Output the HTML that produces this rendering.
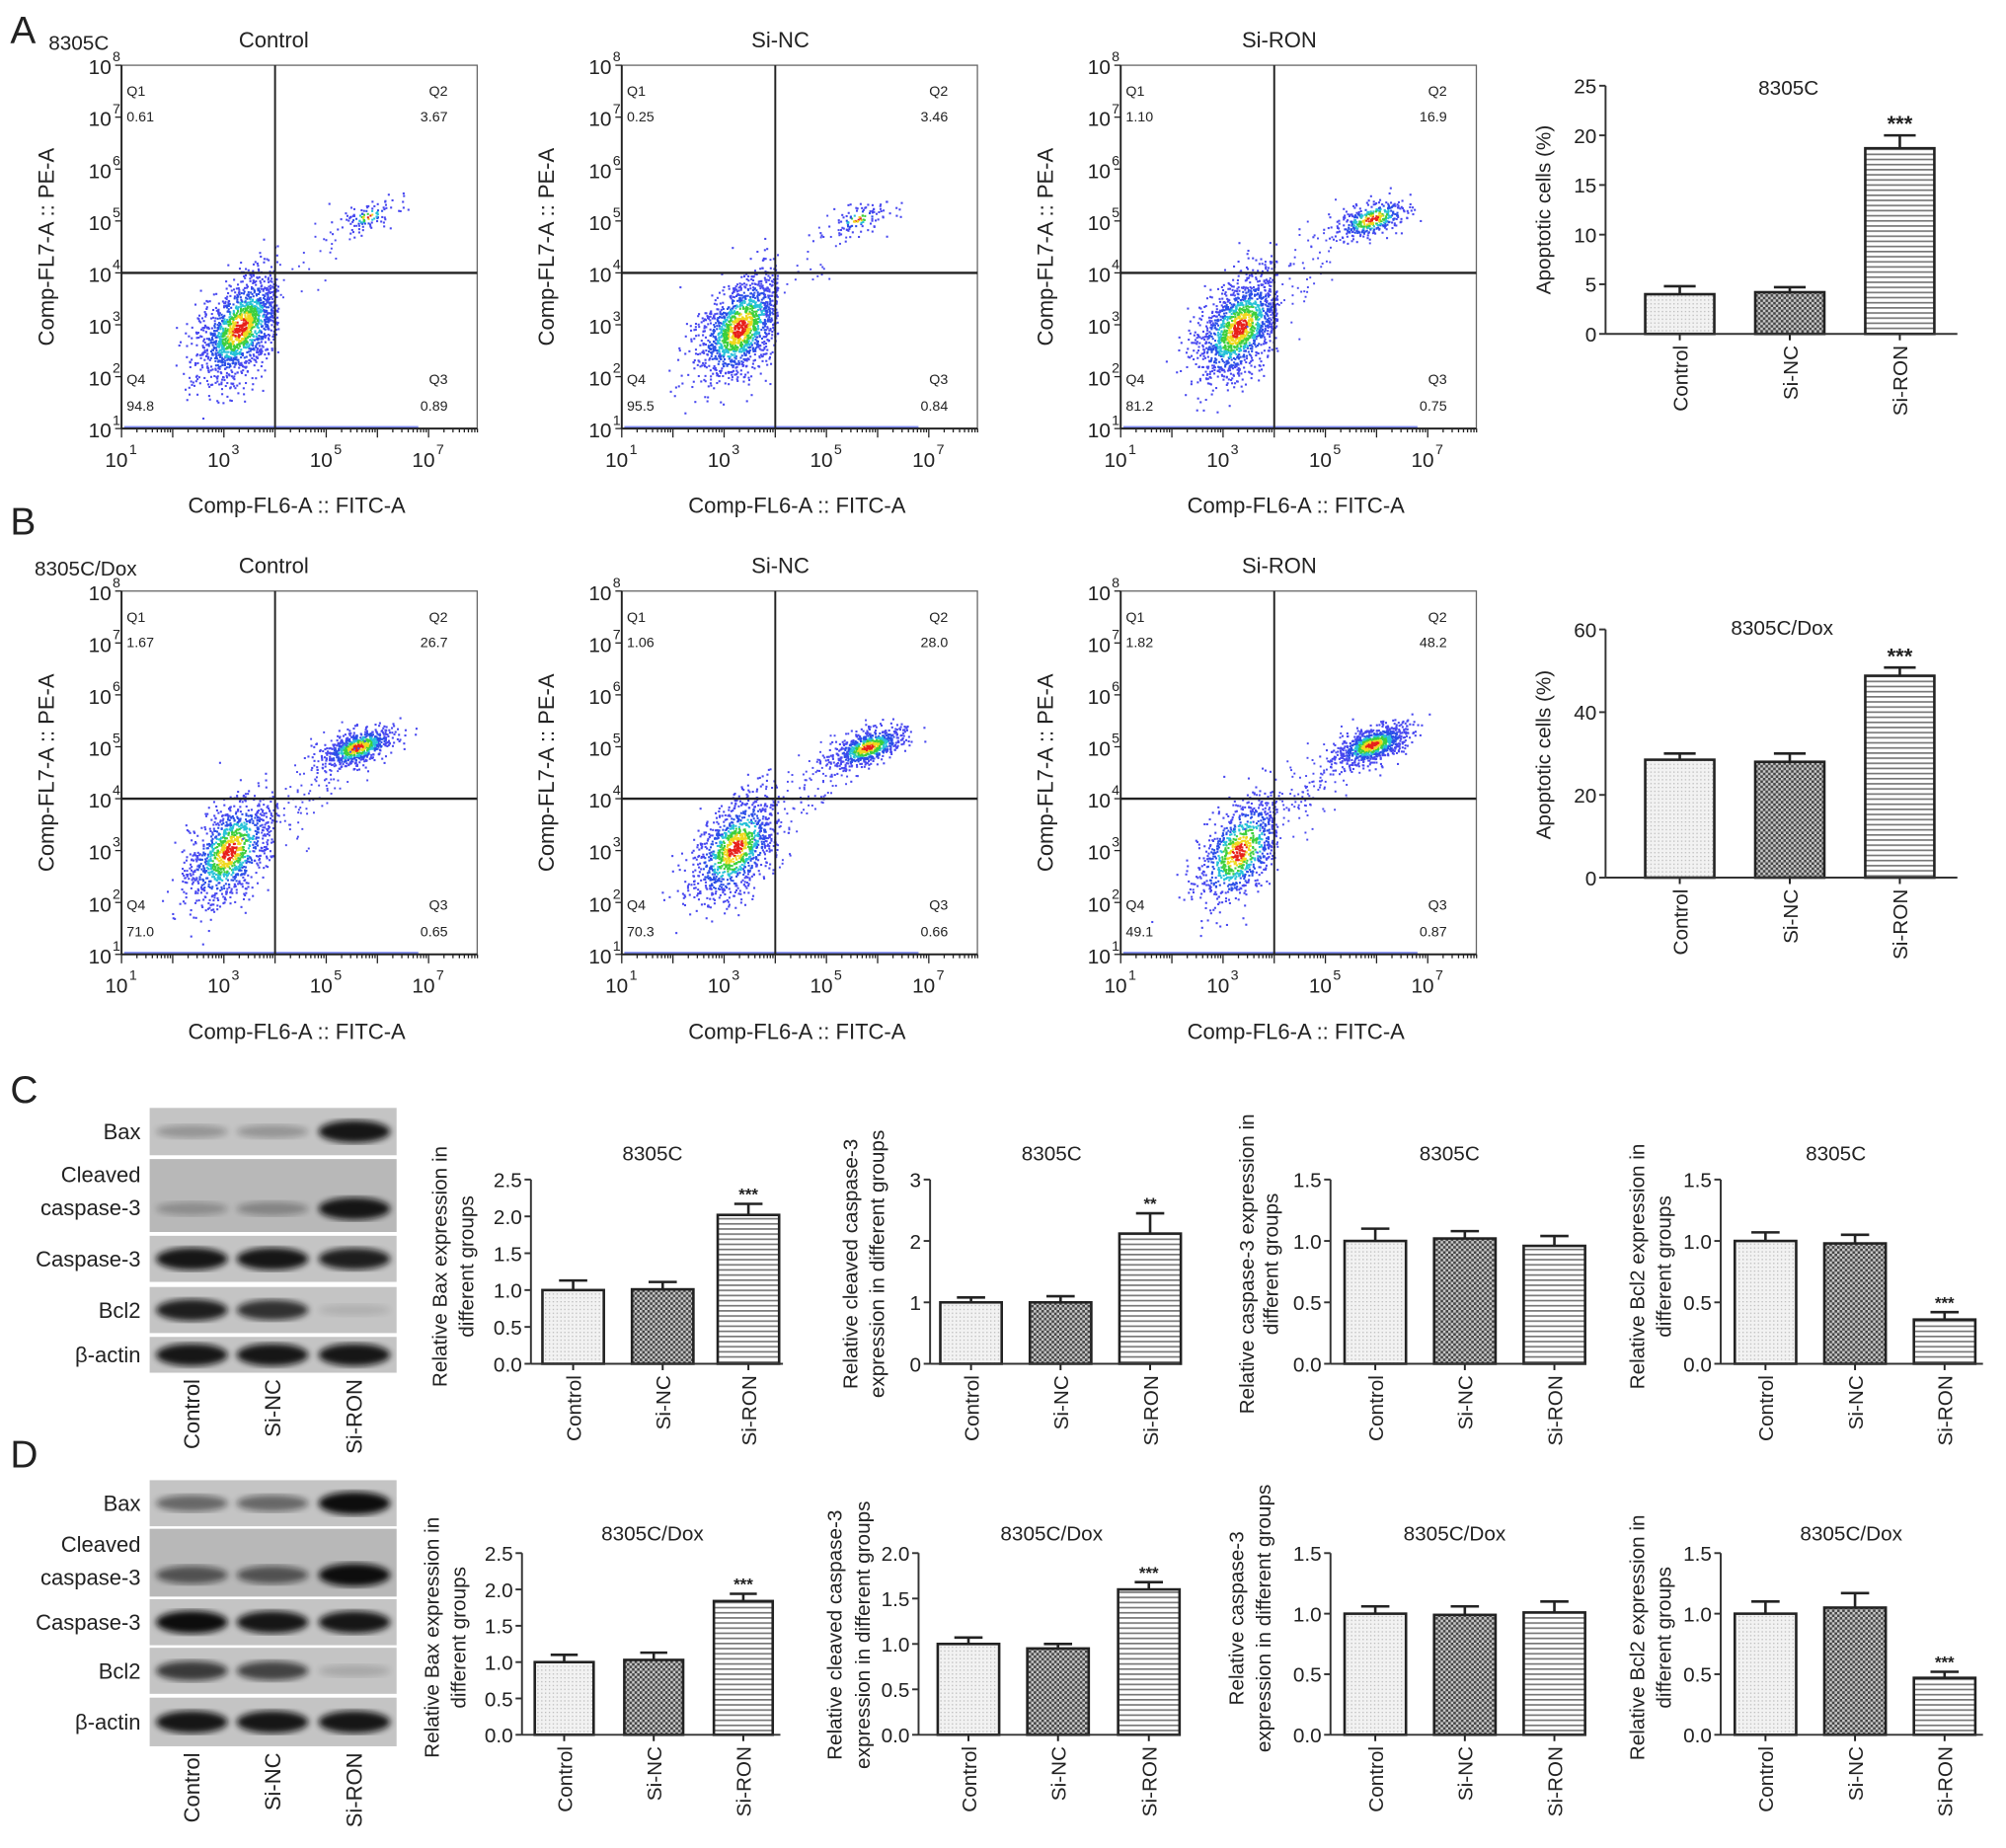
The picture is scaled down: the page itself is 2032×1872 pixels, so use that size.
<!DOCTYPE html>
<html><head><meta charset="utf-8">
<style>
html,body{margin:0;padding:0;background:#fff;}
svg{display:block;}
text{font-family:"Liberation Sans",Arial,sans-serif;fill:#222;}
</style></head>
<body>
<svg id="fig" xmlns="http://www.w3.org/2000/svg" width="2032" height="1872" viewBox="0 0 1568 1444.5" preserveAspectRatio="none">
<defs>
<pattern id="pDot" width="3" height="3" patternUnits="userSpaceOnUse"><rect width="3" height="3" fill="#f2f2f2"/><rect width="1" height="1" fill="#bbb"/></pattern>
<pattern id="pChk" width="4" height="4" patternUnits="userSpaceOnUse"><rect width="4" height="4" fill="#444"/><rect width="2" height="2" fill="#c8c8c8"/><rect x="2" y="2" width="2" height="2" fill="#c8c8c8"/></pattern>
<pattern id="pStr" width="4" height="4" patternUnits="userSpaceOnUse"><rect width="4" height="4" fill="#fff"/><rect width="4" height="1.3" fill="#777"/></pattern>
<filter id="blur"><feGaussianBlur stdDeviation="2.5"/></filter>
</defs>
<g id="root"></g>
</svg>
<script>
// ---------- Flow cytometry data ----------
const flowTitles = ["Control","Si-NC","Si-RON","Control","Si-NC","Si-RON"];
const q1Vals = ["0.61","0.25","1.10","1.67","1.06","1.82"];
const q2Vals = ["3.67","3.46","16.9","26.7","28.0","48.2"];
const q3Vals = ["0.89","0.84","0.75","0.65","0.66","0.87"];
const q4Vals = ["94.8","95.5","81.2","71.0","70.3","49.1"];
const liveCx = [3.3,3.3,3.3,3.1,3.2,3.3];   // log10 FITC
const liveCy = [2.95,2.95,2.95,3.0,3.05,3.0];    // log10 PE
const apoCx = [5.8,5.6,5.9,5.6,5.8,5.9];
const apoCy = [5.1,5.05,5.05,5.0,5.0,5.05];
const apoN = [110,110,380,700,700,900];
const liveN = [1500,1400,1400,1100,1100,850];
const xTickExp = [1,3,5,7];
const yTickExp = [1,2,3,4,5,6,7,8];

// ---------- Bar chart data ----------
const groups = ["Control","Si-NC","Si-RON"];
const valsA = [4.0,4.2,18.7]; const errA = [0.8,0.5,1.3];
const valsB = [28.5,28.0,48.8]; const errB = [1.5,2.0,2.0];
const valsC1 = [1.0,1.01,2.02]; const errC1 = [0.13,0.1,0.15];
const valsC2 = [1.0,1.0,2.12]; const errC2 = [0.08,0.1,0.33];
const valsC3 = [1.0,1.02,0.96]; const errC3 = [0.1,0.06,0.08];
const valsC4 = [1.0,0.98,0.36]; const errC4 = [0.07,0.07,0.06];
const valsD1 = [1.0,1.03,1.84]; const errD1 = [0.1,0.1,0.1];
const valsD2 = [1.0,0.95,1.6]; const errD2 = [0.07,0.05,0.08];
const valsD3 = [1.0,0.99,1.01]; const errD3 = [0.06,0.07,0.09];
const valsD4 = [1.0,1.05,0.47]; const errD4 = [0.1,0.12,0.05];

// ---------- Western blot band intensities ----------
const blotProteins = ["Bax","Cleaved caspase-3","Caspase-3","Bcl2","β-actin"];
const bandC = [[0.25,0.25,0.95],[0.25,0.3,0.95],[0.95,0.95,0.9],[0.9,0.8,0.1],[0.95,0.95,0.95]];
const bandD = [[0.5,0.5,1.0],[0.6,0.6,1.0],[1.0,0.95,0.95],[0.75,0.7,0.15],[0.95,0.95,0.95]];

const NS="http://www.w3.org/2000/svg";
const root=document.getElementById('root');
function el(tag,attrs,parent){const e=document.createElementNS(NS,tag);for(const k in attrs)e.setAttribute(k,attrs[k]);(parent||root).appendChild(e);return e;}
function txt(s,attrs,parent){const e=el('text',attrs,parent);e.textContent=s;return e;}

// PRNG (deterministic jitter for density cloud)
let seed=12345;
function rnd(){seed|=0;seed=seed+0x6D2B79F5|0;let t=Math.imul(seed^seed>>>15,1|seed);t=t+Math.imul(t^t>>>7,61|t)^t;return((t^t>>>14)>>>0)/4294967296;}
function gauss(){let u=0,v=0;while(u===0)u=rnd();v=rnd();return Math.sqrt(-2*Math.log(u))*Math.cos(2*Math.PI*v);}
function dcol(r){if(r<0.35)return'#e8201a';if(r<0.6)return'#f0d81e';if(r<0.85)return'#3ccf3c';if(r<1.1)return'#27c2d8';if(r<1.5)return'#2a4ee8';return'#4848f0';}

// ---------- Flow panels ----------
const flowX0=[95,486,876], flowRowY=[0,411];
const letters=[["A",8,34],["B",8,418],["C",8,862],["D",8,1147]];
letters.forEach(l=>{const t=txt(l[0],{x:l[1],y:l[2],'font-size':30});

});

for(let i=0;i<6;i++){
  const col=i%3,row=Math.floor(i/3);
  const x0=flowX0[col],top=51+flowRowY[row],bot=335+flowRowY[row],right=x0+278;
  const g=el('g',{});
  
  
  const dx=40, dy=(bot-top)/7;
  const X=l=>x0+(l-1)*dx, Y=l=>bot-(l-1)*dy;
  seed=1000+i*77;
  for(let k=0;k<liveN[i];k++){
    const u=gauss(),v=gauss();
    let lx=liveCx[i]+0.42*u, ly=liveCy[i]+0.25*u+0.45*v;
    if(lx>4.05) lx=4.05-rnd()*0.3;
    if(ly<1.1) ly=1.05+rnd()*0.1;
    const r=Math.sqrt(u*u+v*v);
    el('rect',{x:X(lx).toFixed(1),y:Y(ly).toFixed(1),width:1.6,height:1.6,fill:dcol(r)},g);
  }
  for(let k=0;k<apoN[i];k++){
    const u=gauss(),v=gauss();
    const lx=apoCx[i]+0.35*u, ly=apoCy[i]+0.1*u+0.16*v;
    const r=Math.sqrt(u*u+v*v)*(apoN[i]>300?1:1.8);
    el('rect',{x:X(lx).toFixed(1),y:Y(ly).toFixed(1),width:1.6,height:1.6,fill:dcol(r)},g);
  }
  for(let k=0;k<apoN[i]/7+15;k++){
    const t=rnd();const lx=3.8+t*1.6+gauss()*0.25, ly=3.4+t*1.5+gauss()*0.3;
    el('rect',{x:X(lx).toFixed(1),y:Y(ly).toFixed(1),width:1.5,height:1.5,fill:'#4a4af0'},g);
  }
  el('rect',{x:x0+2,y:bot-2,width:230,height:2,fill:'#5a6af0',opacity:0.8},g);
  el('rect',{x:x0,y:top,width:right-x0,height:bot-top,fill:'none',stroke:'#666','stroke-width':1},g);
  el('line',{x1:x0,y1:top,x2:x0,y2:bot,stroke:'#222','stroke-width':1.5},g);
  el('line',{x1:x0,y1:bot,x2:right,y2:bot,stroke:'#222','stroke-width':1.5},g);
  el('line',{x1:X(4),y1:top,x2:X(4),y2:bot,stroke:'#222','stroke-width':1.5},g);
  el('line',{x1:x0,y1:Y(4),x2:right,y2:Y(4),stroke:'#222','stroke-width':1.8},g);
  for(let d=1;d<8;d++){for(let m=1;m<10;m++){const lx=d+Math.log10(m);const xx=X(lx);
    el('line',{x1:xx,y1:bot,x2:xx,y2:bot+(m===1?7:3),stroke:'#222','stroke-width':1},g);}}
  yTickExp.forEach(e=>{el('line',{x1:x0-5,y1:Y(e),x2:x0,y2:Y(e),stroke:'#222'},g);
    txt('10',{x:x0-8,y:Y(e)+7,'font-size':16,'text-anchor':'end'},g);
    txt(String(e),{x:x0-7,y:Y(e)-3,'font-size':11},g);});
  xTickExp.forEach(e=>{txt('10',{x:X(e)-4,y:bot+30,'font-size':16,'text-anchor':'middle'},g);
    txt(String(e),{x:X(e)+6,y:bot+20,'font-size':11},g);});
  const fs=11;
  txt('Q1',{x:x0+4,y:top+24,'font-size':fs,fill:'#333'},g);
  txt(q1Vals[i],{x:x0+4,y:top+44,'font-size':fs},g);
  txt('Q2',{x:right-23,y:top+24,'font-size':fs,'text-anchor':'end'},g);
  txt(q2Vals[i],{x:right-23,y:top+44,'font-size':fs,'text-anchor':'end'},g);
  txt('Q4',{x:x0+4,y:bot-35,'font-size':fs},g);
  txt(q4Vals[i],{x:x0+4,y:bot-14,'font-size':fs},g);
  txt('Q3',{x:right-23,y:bot-35,'font-size':fs,'text-anchor':'end'},g);
  txt(q3Vals[i],{x:right-23,y:bot-14,'font-size':fs,'text-anchor':'end'},g);
  txt(flowTitles[i],{x:x0+[119,124,124][col],y:top-14,'font-size':17,'text-anchor':'middle'},g);
  txt('Comp-FL6-A :: FITC-A',{x:x0+137,y:bot+66,'font-size':17,'text-anchor':'middle'},g);
  txt('Comp-FL7-A :: PE-A',{x:0,y:0,'font-size':17,'text-anchor':'middle',transform:`translate(${x0-53},${(top+bot)/2}) rotate(-90)`},g);
}
txt('8305C',{x:38,y:39,'font-size':16});
txt('8305C/Dox',{x:27,y:450,'font-size':16});

// ---------- Bar chart function ----------
function barChart(name,o,vals,errs){
  const g=el('g',{});
  
  
  const Y=v=>o.y0-(v/o.ymax)*(o.y0-o.ytop);
  const fills=['url(#pDot)','url(#pChk)','url(#pStr)'];
  vals.forEach((v,k)=>{
    const cx=o.cx[k],w=o.bw;
    const b=el('rect',{x:cx-w/2,y:Y(v),width:w,height:o.y0-Y(v),fill:fills[k],stroke:'#222','stroke-width':2},g);
    
    
    const ye=Y(v+errs[k]);
    el('line',{x1:cx,y1:Y(v),x2:cx,y2:ye,stroke:'#222','stroke-width':2},g);
    el('line',{x1:cx-w*0.23,y1:ye,x2:cx+w*0.23,y2:ye,stroke:'#222','stroke-width':2},g);
    if(o.stars&&o.stars[k])txt(o.stars[k],{x:cx,y:ye-3,'font-size':o.starSize||13,'font-weight':'bold','text-anchor':'middle'},g);
    el('line',{x1:cx,y1:o.y0,x2:cx,y2:o.y0+5,stroke:'#222','stroke-width':1.5},g);
    txt(groups[k],{x:0,y:0,'font-size':16,'text-anchor':'end',transform:`translate(${cx+6},${o.y0+9}) rotate(-90)`},g);
  });
  el('line',{x1:o.ax,y1:o.ytop,x2:o.ax,y2:o.y0,stroke:'#333','stroke-width':1.5},g);
  el('line',{x1:o.ax,y1:o.y0,x2:o.axEnd,y2:o.y0,stroke:'#333','stroke-width':1.5},g);
  o.ticks.forEach(t=>{el('line',{x1:o.ax-5,y1:Y(t),x2:o.ax,y2:Y(t),stroke:'#333','stroke-width':1.5},g);
    txt(o.dec?t.toFixed(1):String(t),{x:o.ax-7,y:Y(t)+6,'font-size':16,'text-anchor':'end'},g);});
  txt(o.title,{x:o.tx,y:o.ty,'font-size':16,'text-anchor':'middle'},g);
  o.ylab.forEach((s,j)=>txt(s,{x:0,y:0,'font-size':16,'text-anchor':'middle',transform:`translate(${o.ylx[j]},${o.yly}) rotate(-90)`},g));
}
barChart('bar-chart-a',{ax:1255,axEnd:1530,y0:261,ytop:67,ymax:25,ticks:[0,5,10,15,20,25],cx:[1313,1399,1485],bw:54,stars:['','','***'],starSize:17,title:'8305C',tx:1398,ty:74,ylab:['Apoptotic cells (%)'],ylx:[1212],yly:164},valsA,errA);
barChart('bar-chart-b',{ax:1255,axEnd:1530,y0:686,ytop:492,ymax:60,ticks:[0,20,40,60],cx:[1313,1399,1485],bw:54,stars:['','','***'],starSize:17,title:'8305C/Dox',tx:1393,ty:496,ylab:['Apoptotic cells (%)'],ylx:[1212],yly:590},valsB,errB);

const cyl=['Relative Bax expression in','different groups'];
barChart('bar-chart-c-bax',{ax:415,axEnd:612,y0:1066,ytop:922,ymax:2.5,dec:1,ticks:[0,0.5,1,1.5,2,2.5],cx:[448,518,585],bw:48,stars:['','','***'],title:'8305C',tx:510,ty:907,ylab:cyl,ylx:[349,370],yly:990},valsC1,errC1);
barChart('bar-chart-c-cleaved',{ax:727,axEnd:922,y0:1066,ytop:922,ymax:3,ticks:[0,1,2,3],cx:[759,829,899],bw:48,stars:['','','**'],title:'8305C',tx:822,ty:907,ylab:['Relative cleaved caspase-3','expression in different groups'],ylx:[670,691],yly:988},valsC2,errC2);
barChart('bar-chart-c-casp3',{ax:1040,axEnd:1240,y0:1066,ytop:922,ymax:1.5,dec:1,ticks:[0,0.5,1,1.5],cx:[1075,1145,1215],bw:48,stars:['','',''],title:'8305C',tx:1133,ty:907,ylab:['Relative caspase-3 expression in','different groups'],ylx:[980,999],yly:988},valsC3,errC3);
barChart('bar-chart-c-bcl2',{ax:1345,axEnd:1550,y0:1066,ytop:922,ymax:1.5,dec:1,ticks:[0,0.5,1,1.5],cx:[1380,1450,1520],bw:48,stars:['','','***'],title:'8305C',tx:1435,ty:907,ylab:['Relative Bcl2 expression in','different groups'],ylx:[1285,1306],yly:990},valsC4,errC4);

barChart('bar-chart-d-bax',{ax:408,axEnd:610,y0:1356,ytop:1214,ymax:2.5,dec:1,ticks:[0,0.5,1,1.5,2,2.5],cx:[441,511,581],bw:46,stars:['','','***'],title:'8305C/Dox',tx:510,ty:1204,ylab:cyl,ylx:[343,364],yly:1280},valsD1,errD1);
barChart('bar-chart-d-cleaved',{ax:718,axEnd:922,y0:1356,ytop:1214,ymax:2.0,dec:1,ticks:[0,0.5,1,1.5,2],cx:[757,827,898],bw:48,stars:['','','***'],title:'8305C/Dox',tx:822,ty:1204,ylab:['Relative cleaved caspase-3','expression in different groups'],ylx:[658,680],yly:1278},valsD2,errD2);
barChart('bar-chart-d-casp3',{ax:1040,axEnd:1240,y0:1356,ytop:1214,ymax:1.5,dec:1,ticks:[0,0.5,1,1.5],cx:[1075,1145,1215],bw:48,stars:['','',''],title:'8305C/Dox',tx:1137,ty:1204,ylab:['Relative caspase-3','expression in different groups'],ylx:[972,993],yly:1265},valsD3,errD3);
barChart('bar-chart-d-bcl2',{ax:1345,axEnd:1550,y0:1356,ytop:1214,ymax:1.5,dec:1,ticks:[0,0.5,1,1.5],cx:[1380,1450,1520],bw:48,stars:['','','***'],title:'8305C/Dox',tx:1447,ty:1204,ylab:['Relative Bcl2 expression in','different groups'],ylx:[1285,1306],yly:1280},valsD4,errD4);

// ---------- Western blots ----------
function blot(name,strips,bands,laneY){
  const g=el('g',{});
  
  
  const lanes=[150,213,277];
  strips.forEach((s,r)=>{
    el('rect',{x:117,y:s[0],width:193,height:s[1]-s[0],fill:r===1?'#b8b8b8':'#c4c4c4'},g);
    const by=r===1?s[0]+(s[1]-s[0])*0.68:(s[0]+s[1])/2;
    bands[r].forEach((b,k)=>{
      el('ellipse',{cx:lanes[k],cy:by,rx:28,ry:4+5*b,fill:'#111',opacity:b,filter:'url(#blur)'},g);
    });
    const lab=blotProteins[r];
    if(r===1){txt('Cleaved',{x:110,y:s[0]+18,'font-size':17,'text-anchor':'end'},g);
      txt('caspase-3',{x:110,y:s[0]+44,'font-size':17,'text-anchor':'end'},g);}
    else txt(lab,{x:110,y:(s[0]+s[1])/2+6,'font-size':17,'text-anchor':'end'},g);
  });
  lanes.forEach((x,k)=>txt(groups[k],{x:0,y:0,'font-size':17,'text-anchor':'end',transform:`translate(${x+6},${laneY}) rotate(-90)`},g));
}
blot('western-blot-c',[[866,903],[906,963],[966,1002],[1006,1042],[1045,1073]],bandC,1078);
blot('western-blot-d',[[1157,1193],[1195,1248],[1250,1286],[1288,1324],[1327,1365]],bandD,1370);
</script>
</body></html>
